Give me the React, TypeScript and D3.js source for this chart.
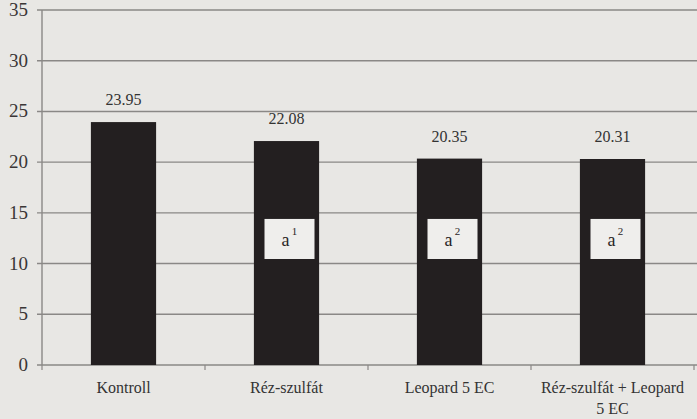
import React from "react";
import * as d3 from "d3";

const categories: string[][] = [["Kontroll"], ["Réz-szulfát"], ["Leopard 5 EC"], ["Réz-szulfát + Leopard", "5 EC"]];
const values: number[] = [23.95, 22.08, 20.35, 20.31];
const valueLabels: string[] = ["23.95", "22.08", "20.35", "20.31"];
const significance: (string | null)[] = [null, "1", "2", "2"];
const yTicks: number[] = [0, 5, 10, 15, 20, 25, 30, 35];

const W = 697, H = 419;
const left = 42, right = 694, top = 10, bottom = 365;
const font = "Liberation Serif, DejaVu Serif, Times New Roman, serif";

export default function App() {
  const keys = categories.map((c) => c.join(" "));
  const x = d3.scaleBand<string>().domain(keys).range([left, right]).paddingInner(0.6).paddingOuter(0.3);
  const y = d3.scaleLinear().domain([0, 35]).range([bottom, top]);
  const step = x.step();
  const boundaries = d3.range(0, keys.length + 1).map((i) => left + i * step);
  return (
    <div style={{ position: "fixed", left: 0, top: 0 }}>
      <svg width={W} height={H} style={{ display: "block", fontFamily: font }}>
        <rect x={0} y={0} width={W} height={H} fill="#e8e7e4" />
        {yTicks.map((t) => (
          <g key={t}>
            <line x1={37} x2={W} y1={y(t)} y2={y(t)} stroke="#8a8886" strokeWidth={1.4} />
            <text x={28} y={y(t) + 6} textAnchor="end" style={{ fontFamily: font }} fontSize={19} fill="#3a3636">{t}</text>
          </g>
        ))}
        <line x1={left} x2={left} y1={top} y2={bottom} stroke="#8a8886" strokeWidth={1.4} />
        {boundaries.map((b, i) => (
          <line key={i} x1={b} x2={b} y1={bottom} y2={bottom + 5} stroke="#8a8886" strokeWidth={1.2} />
        ))}
        {keys.map((k, i) => {
          const bx = x(k)!;
          const bw = x.bandwidth();
          const cx = bx + bw / 2;
          return (
            <g key={k}>
              <rect x={bx} y={y(values[i])} width={bw} height={bottom - y(values[i])} fill="#231f20" />
              <text x={cx} y={y(values[i]) - 17} textAnchor="middle" style={{ fontFamily: font }} fontSize={16} fill="#333">{valueLabels[i]}</text>
              {significance[i] && (
                <g>
                  <rect x={cx + 3 - 25} y={y(14.4)} width={50} height={y(10.45) - y(14.4)} fill="#efeeec" />
                  <text x={cx - 1} y={y(10.45) - 13} textAnchor="middle" style={{ fontFamily: font }} fontSize={18} fill="#2a2626">a</text>
                  <text x={cx + 8} y={y(10.45) - 24} textAnchor="middle" style={{ fontFamily: font }} fontSize={11} fill="#2a2626">{significance[i]}</text>
                </g>
              )}
              {categories[i].map((line, j) => (
                <text key={j} x={cx} y={bottom + 28 + j * 21} textAnchor="middle" style={{ fontFamily: font }} fontSize={16} fill="#333">{line}</text>
              ))}
            </g>
          );
        })}
      </svg>
    </div>
  );
}
